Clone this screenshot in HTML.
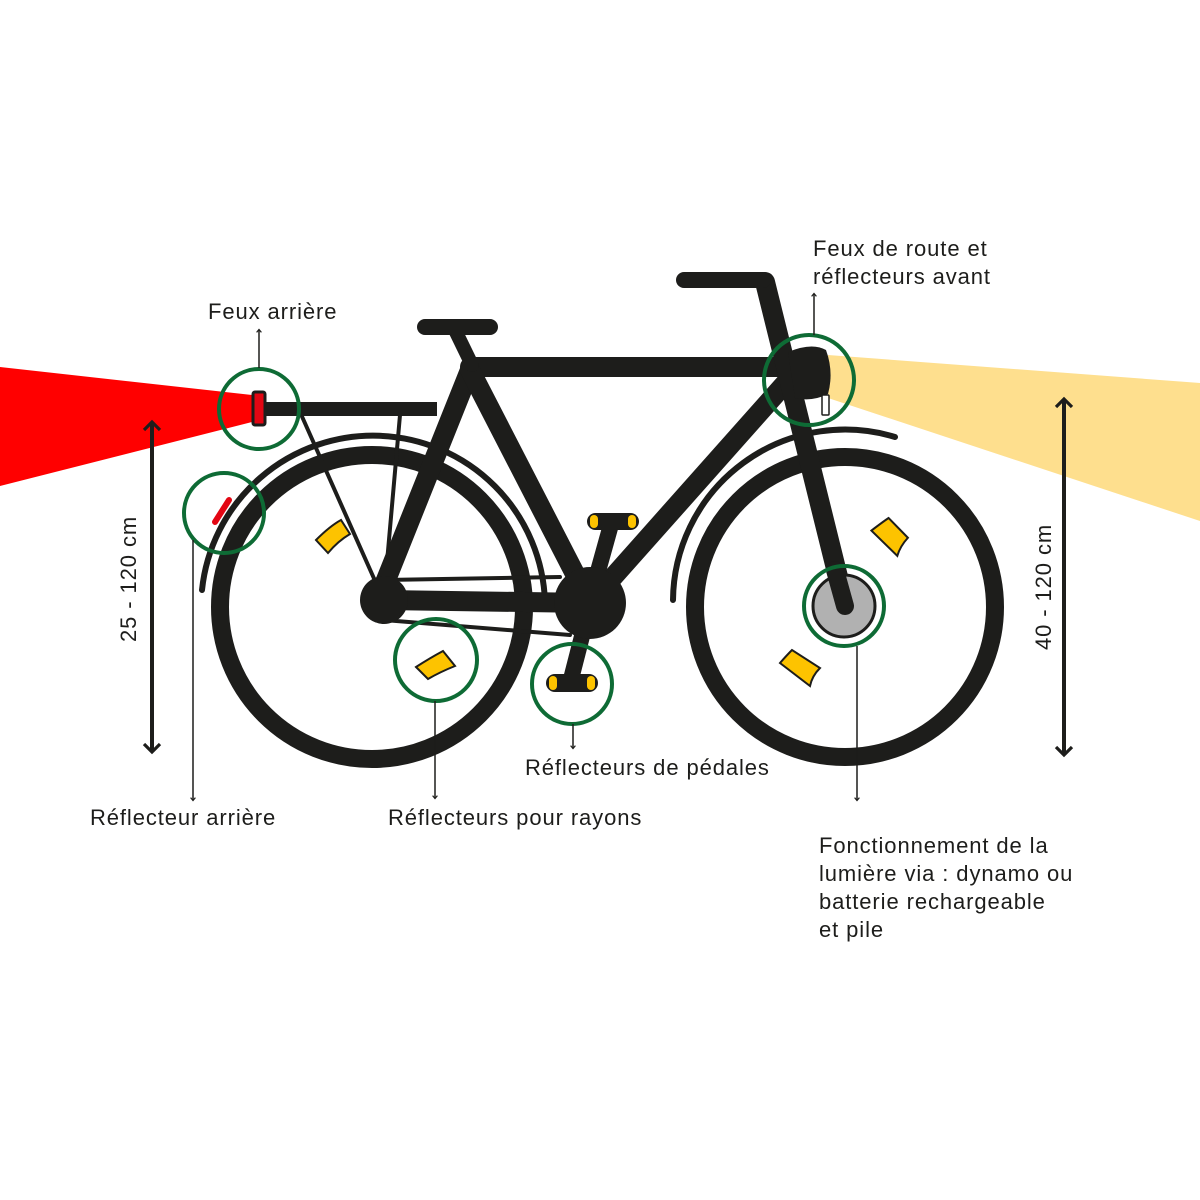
<!DOCTYPE html>
<html><head><meta charset="utf-8"><style>
html,body{margin:0;padding:0;background:#fff}
svg{display:block}
text{font-family:"Liberation Sans","DejaVu Sans",sans-serif;font-size:22px;fill:#1d1d1b;letter-spacing:0.9px}
</style></head><body>
<svg width="1200" height="1200" viewBox="0 0 1200 1200" xmlns="http://www.w3.org/2000/svg">
<defs>
<marker id="a" viewBox="0 0 10 10" refX="5" refY="5" markerWidth="5" markerHeight="5" orient="auto-start-reverse"><path d="M1,1 L5,5 L1,9" fill="none" stroke="#1d1d1b" stroke-width="1.6"/></marker>
<marker id="b" viewBox="0 0 10 10" refX="5" refY="5" markerWidth="4" markerHeight="4" orient="auto-start-reverse"><path d="M1,1 L6,5 L1,9" fill="none" stroke="#1d1d1b" stroke-width="2"/></marker>
</defs>
<polygon points="0,367 252,395 252,422 0,486" fill="#ff0000"/>
<polygon points="828,355 1200,383 1200,521 828,398" fill="#fedf8e"/>
<g stroke="#1d1d1b" fill="none" stroke-linecap="round">
<circle cx="372" cy="607" r="152" stroke-width="18"/>
<circle cx="845" cy="607" r="150" stroke-width="18"/>
<path d="M202,590 A172,172 0 0 1 545,602" stroke-width="6"/>
<path d="M673,600 A172,172 0 0 1 895,437" stroke-width="6"/>
<line x1="265" y1="409" x2="437" y2="409" stroke-width="14" stroke-linecap="butt"/>
<line x1="300" y1="412" x2="376" y2="583" stroke-width="4"/>
<line x1="400" y1="415" x2="385" y2="585" stroke-width="4"/>
<line x1="384" y1="580" x2="560" y2="577" stroke-width="4"/>
<line x1="384" y1="620" x2="570" y2="635" stroke-width="4"/>
<line x1="384" y1="600" x2="590" y2="603" stroke-width="20"/>
<line x1="470" y1="370" x2="380" y2="595" stroke-width="20"/>
<line x1="470" y1="367" x2="780" y2="367" stroke-width="20"/>
<line x1="470" y1="370" x2="590" y2="603" stroke-width="20"/>
<line x1="790" y1="378" x2="590" y2="603" stroke-width="20"/>
<line x1="455" y1="330" x2="472" y2="365" stroke-width="14"/>
<line x1="425" y1="327" x2="490" y2="327" stroke-width="16"/>
<line x1="765" y1="282" x2="845" y2="605" stroke-width="20"/>
<line x1="684" y1="280" x2="763" y2="280" stroke-width="16"/>
<line x1="612" y1="521" x2="590" y2="600" stroke-width="16" stroke-linecap="butt"/>
<line x1="590" y1="605" x2="570" y2="683" stroke-width="16" stroke-linecap="butt"/>
</g>
<circle cx="384" cy="600" r="24" fill="#1d1d1b"/>
<circle cx="590" cy="603" r="36" fill="#1d1d1b"/>
<rect x="587" y="513" width="52" height="17" rx="8.5" fill="#1d1d1b"/>
<rect x="590" y="515" width="8" height="13" rx="4" fill="#fdc300"/><rect x="628" y="515" width="8" height="13" rx="4" fill="#fdc300"/>
<rect x="546" y="674" width="52" height="18" rx="9" fill="#1d1d1b"/>
<rect x="549" y="676" width="8" height="14" rx="4" fill="#fdc300"/><rect x="587" y="676" width="8" height="14" rx="4" fill="#fdc300"/>
<circle cx="844" cy="606" r="31" fill="#b1b1b1" stroke="#1d1d1b" stroke-width="3"/>
<line x1="835" y1="570" x2="845" y2="606" stroke="#1d1d1b" stroke-width="18" stroke-linecap="round"/>
<path d="M788,352 Q812,342 826,350 Q834,372 828,394 Q812,402 795,398 Z" fill="#1d1d1b"/>
<rect x="822" y="395" width="7" height="20" rx="1" fill="#fff" stroke="#1d1d1b" stroke-width="1.5"/>
<rect x="253" y="392" width="12" height="33" rx="2" fill="#e30613" stroke="#1d1d1b" stroke-width="3"/>
<line x1="229" y1="500" x2="215" y2="522" stroke="#e30613" stroke-width="6" stroke-linecap="round"/>
<g fill="#fdc300" stroke="#1d1d1b" stroke-width="2">
<path d="M316,540 Q330,526 341,520 L350,534 Q338,541 328,553 Z"/>
<path d="M416,667 Q430,658 443,651 L455,666 Q440,672 428,679 Z"/>
<path d="M871,532 Q882,522 887,518 L908,536 Q901,545 899,555 Z" transform="rotate(5 888 536)"/>
<path d="M780,663 Q787,655 792,650 L820,668 Q812,676 810,686 Z"/>
</g>
<g fill="none" stroke="#0e6b35" stroke-width="4">
<circle cx="259" cy="409" r="40"/><circle cx="224" cy="513" r="40"/>
<circle cx="809" cy="380" r="45"/><circle cx="844" cy="606" r="40"/>
<circle cx="436" cy="660" r="41"/><circle cx="572" cy="684" r="40"/>
</g>
<g stroke="#1d1d1b" stroke-width="1.5" fill="none">
<line x1="259" y1="368" x2="259" y2="330" marker-end="url(#b)"/>
<line x1="814" y1="335" x2="814" y2="294" marker-end="url(#b)"/>
<line x1="193" y1="540" x2="193" y2="800" marker-end="url(#b)"/>
<line x1="435" y1="701" x2="435" y2="798" marker-end="url(#b)"/>
<line x1="573" y1="724" x2="573" y2="748" marker-end="url(#b)"/>
<line x1="857" y1="646" x2="857" y2="800" marker-end="url(#b)"/>
</g>
<g stroke="#1d1d1b" stroke-width="4">
<line x1="152" y1="422" x2="152" y2="752" marker-start="url(#a)" marker-end="url(#a)"/>
<line x1="1064" y1="399" x2="1064" y2="755" marker-start="url(#a)" marker-end="url(#a)"/>
</g>
<text transform="translate(136,642) rotate(-90)">25 - 120 cm</text>
<text transform="translate(1051,650) rotate(-90)">40 - 120 cm</text>
<text x="208" y="319">Feux arrière</text>
<text x="813" y="256">Feux de route et</text>
<text x="813" y="284">réflecteurs avant</text>
<text x="90" y="825">Réflecteur arrière</text>
<text x="388" y="825">Réflecteurs pour rayons</text>
<text x="525" y="775">Réflecteurs de pédales</text>
<text x="819" y="853">Fonctionnement de la</text>
<text x="819" y="881">lumière via : dynamo ou</text>
<text x="819" y="909">batterie rechargeable</text>
<text x="819" y="937">et pile</text>
</svg>
</body></html>
